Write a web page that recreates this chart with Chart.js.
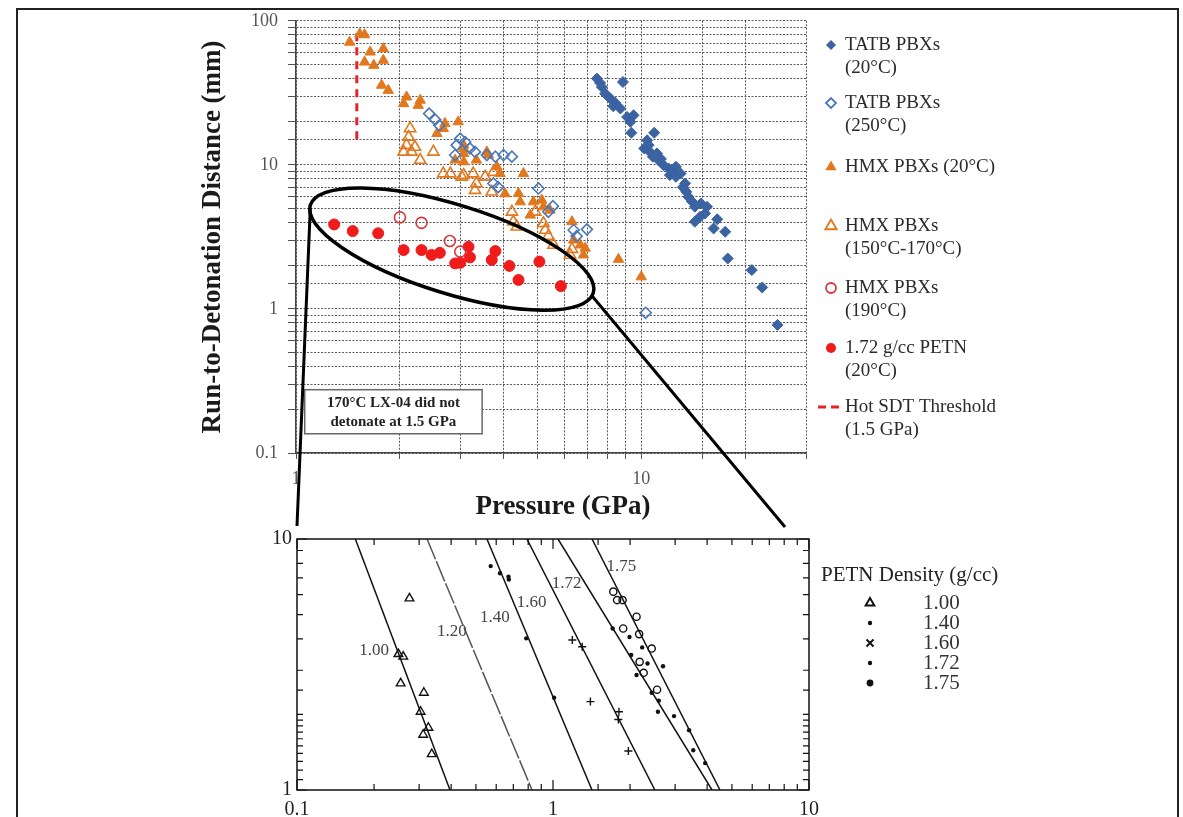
<!DOCTYPE html>
<html>
<head>
<meta charset="utf-8">
<script src="https://cdn.jsdelivr.net/npm/chart.js@4.4.1/dist/chart.umd.min.js"></script>
<style>
  body { margin: 0; background: #fff; }
  #wrap { position: relative; width: 1183px; height: 817px; overflow: hidden; }
  #frame { position: absolute; left: 16px; top: 8px; width: 1159px; height: 840px; border: 2px solid #222; }
  canvas { position: absolute; left: 0; top: 0; }
</style>
</head>
<body>
<div id="wrap">
  <div id="frame"></div>
  <canvas id="zoomChart" width="1183" height="817"></canvas>
  <canvas id="mainChart" width="1183" height="817"></canvas>
</div>
<script>
// ---- main chart data (pressure GPa, run distance mm) ----
const tatb20P = [7.44, 8.85, 7.60, 7.69, 7.86, 8.0, 8.13, 8.41, 8.3, 8.70, 9.10, 9.50, 9.30, 9.36, 10.9, 10.4, 10.2, 10.5, 10.6,
  10.8, 11.1, 11.2, 11.4, 11.6, 12.0, 12.6, 12.1, 12.3, 12.6, 13.0, 13.2, 13.4, 13.5, 13.7, 14.0, 14.3, 14.9, 15.5, 15.3, 14.3,
  14.8, 16.6, 16.2, 17.5, 17.8, 20.9, 22.4, 24.8];
const tatb20R = [39.7, 37.6, 37.0, 34.7, 31.2, 30.0, 28.9, 26.9, 25.5, 24.6, 21.5, 22.1, 19.9, 16.7, 16.7, 14.8, 13.0, 13.7, 12.3,
  11.4, 12.0, 10.8, 11.0, 9.95, 9.44, 9.7, 8.49, 9.0, 8.26, 8.7, 7.0, 7.43, 6.50, 6.0, 5.6, 5.12, 5.4, 5.12, 4.60, 4.03,
  4.36, 4.19, 3.62, 3.43, 2.24, 1.86, 1.41, 0.775];

const tatb250P = [2.43, 2.53, 2.60, 2.99, 3.09, 2.92, 3.19, 3.30, 3.57, 3.78, 3.99, 4.22, 2.89, 3.73, 3.85, 5.04, 5.55, 5.38, 6.37, 6.96, 6.50, 10.3];
const tatb250R = [22.7, 20.6, 18.8, 15.2, 14.4, 13.7, 13.0, 12.3, 11.7, 11.4, 11.7, 11.4, 11.7, 7.43, 7.0, 6.86, 5.17, 4.72, 3.53, 3.57, 3.20, 0.94];

const hmx20P = [1.43, 1.53, 1.58, 1.64, 1.79, 1.58, 1.68, 1.79, 1.77, 1.85, 2.05, 2.09, 2.26, 2.29, 2.56, 2.67, 2.70, 2.95,
  3.06, 3.06, 2.89, 3.06, 3.33, 3.57, 3.82, 3.90, 4.56, 4.41, 4.46, 4.77, 4.87, 5.15, 5.21, 5.44, 6.30, 6.37, 6.66, 6.88,
  6.80, 8.59, 10.0, 3.06, 3.61, 4.03];
const hmx20R = [71, 81, 80, 60.7, 64.1, 51.7, 49.1, 53.2, 35.7, 32.9, 26.6, 29.6, 25.9, 28.1, 16.5, 17.9, 19.4, 19.9,
  13.7, 12.0, 10.8, 10.5, 10.8, 12.3, 9.69, 8.7, 8.7, 6.34, 5.54, 4.48, 5.54, 5.69, 5.11, 4.85, 4.03, 3.01, 2.78, 2.64,
  2.37, 2.21, 1.67, 13.0, 11.7, 6.3];

const hmxHotP = [2.14, 2.12, 2.09, 2.21, 2.05, 2.16, 2.29, 2.50, 2.67, 2.80, 3.02, 3.06, 3.26, 3.33, 3.53, 3.73, 3.30, 3.69,
  4.22, 4.26, 4.36, 4.93, 5.21, 5.27, 5.38, 5.57, 6.22, 6.30];
const hmxHotR = [17.9, 15.6, 13.7, 13.3, 12.3, 12.3, 10.8, 12.3, 8.7, 8.7, 8.26, 8.49, 8.7, 7.43, 8.26, 8.9, 6.68, 6.5,
  4.72, 4.03, 3.72, 4.72, 3.93, 3.53, 3.20, 2.78, 2.37, 2.60];

const hmx190P = [2.00, 2.31, 2.79, 2.99];
const hmx190R = [4.32, 3.96, 2.96, 2.50];

const petnP = [1.29, 1.46, 1.73, 2.05, 2.31, 2.47, 2.61, 2.89, 2.99, 3.16, 3.19, 3.69, 3.78, 4.15, 4.41, 5.07, 5.85];
const petnR = [3.86, 3.47, 3.35, 2.56, 2.56, 2.37, 2.45, 2.07, 2.09, 2.70, 2.28, 2.19, 2.52, 1.99, 1.59, 2.13, 1.44];

const sdtP = [1.5, 1.5];
const sdtR = [82, 15];

const mainLegend = [['TATB PBXs', '(20°C)'], ['TATB PBXs', '(250°C)'], ['HMX PBXs (20°C)'], ['HMX PBXs', '(150°C-170°C)'],
  ['HMX PBXs', '(190°C)'], ['1.72 g/cc PETN', '(20°C)'], ['Hot SDT Threshold', '(1.5 GPa)']];

// ellipse around PETN data: two tips (GPa, mm)
const ellipseP = [1.10, 7.26];
const ellipseR = [5.26, 1.29];

// ---- zoomed PETN chart data ----
const fitR = [10, 1];
const fit100P = [0.169, 0.396];
const fit120P = [0.322, 0.828];
const fit140P = [0.552, 1.42];
const fit160P = [0.791, 2.50];
const fit172P = [1.046, 4.18];
const fit175P = [1.42, 4.49];
const fitNames = ['1.00', '1.20', '1.40', '1.60', '1.72', '1.75'];
const fitLabelP = [0.20, 0.403, 0.593, 0.826, 1.13, 1.85];
const fitLabelR = [3.6, 4.26, 4.88, 5.57, 6.66, 7.76];

const pts100P = [0.275, 0.249, 0.260, 0.254, 0.313, 0.304, 0.326, 0.311, 0.336];
const pts100R = [5.8, 3.48, 3.40, 2.66, 2.44, 2.05, 1.77, 1.66, 1.39];
const pts140P = [0.571, 0.621, 0.670, 0.672, 0.786, 1.01];
const pts140R = [7.8, 7.3, 7.07, 6.9, 4.02, 2.33];
const pts160P = [1.19, 1.30, 1.40, 1.81, 1.80, 1.97];
const pts160R = [3.96, 3.72, 2.25, 2.05, 1.91, 1.43];
const pts172P = [1.71, 1.99, 2.23, 2.02, 2.34, 2.69, 2.12, 2.43, 2.59, 2.57, 2.97, 3.40, 3.53, 3.93];
const pts172R = [4.40, 4.07, 3.70, 3.45, 3.19, 3.11, 2.87, 2.44, 2.27, 2.05, 1.97, 1.73, 1.44, 1.28];
const pts175P = [1.72, 1.78, 1.87, 2.12, 1.88, 2.17, 2.43, 2.18, 2.26, 2.55];
const pts175R = [6.17, 5.71, 5.71, 4.90, 4.40, 4.18, 3.66, 3.24, 2.93, 2.51];

const SERIF = '"Liberation Serif", "Times New Roman", serif';
const BLUE = '#3b63a2';
const BLUE_OPEN = '#4a78b8';
const ORANGE = '#e2781e';
const RED_OPEN = '#d9363a';
const RED = '#f01c1c';
const GRID = 'rgba(60,60,60,0.85)';

function toPts(xs, ys) { return xs.map((x, i) => ({ x: x, y: ys[i] })); }
function isDecade(v) { const l = Math.log10(v); return Math.abs(l - Math.round(l)) < 1e-6; }
function decadeLabel(v) { return isDecade(v) ? String(Number(v.toPrecision(2))) : ''; }

function marker(ctx, style, x, y, r, fill, stroke, lw) {
  ctx.save();
  ctx.beginPath();
  if (style === 'rectRot') {
    ctx.moveTo(x - r, y); ctx.lineTo(x, y - r); ctx.lineTo(x + r, y); ctx.lineTo(x, y + r); ctx.closePath();
  } else if (style === 'triangle') {
    ctx.moveTo(x, y - r); ctx.lineTo(x + r * 0.866, y + r / 2); ctx.lineTo(x - r * 0.866, y + r / 2); ctx.closePath();
  } else if (style === 'crossRot') {
    ctx.moveTo(x - r, y - r); ctx.lineTo(x + r, y + r); ctx.moveTo(x + r, y - r); ctx.lineTo(x - r, y + r);
  } else {
    ctx.arc(x, y, r, 0, Math.PI * 2);
  }
  if (fill) { ctx.fillStyle = fill; ctx.fill(); }
  if (stroke) { ctx.lineWidth = lw; ctx.strokeStyle = stroke; ctx.stroke(); }
  ctx.restore();
}

// ---------------- zoomed PETN chart ----------------
const zoomExtras = {
  id: 'zoomExtras',
  afterDraw(chart) {
    const { ctx, chartArea: a, scales: { x, y } } = chart;
    ctx.save();
    ctx.strokeStyle = '#111';
    ctx.lineWidth = 1.5;
    ctx.strokeRect(a.left, a.top, a.right - a.left, a.bottom - a.top);
    // inward ticks on four sides
    ctx.lineWidth = 1.2;
    ctx.beginPath();
    x.ticks.forEach(t => {
      const px = x.getPixelForValue(t.value);
      const len = isDecade(t.value) ? 10 : 6;
      ctx.moveTo(px, a.bottom); ctx.lineTo(px, a.bottom - len);
      ctx.moveTo(px, a.top); ctx.lineTo(px, a.top + len);
    });
    y.ticks.forEach(t => {
      const py = y.getPixelForValue(t.value);
      const len = isDecade(t.value) ? 10 : 6;
      ctx.moveTo(a.left, py); ctx.lineTo(a.left + len, py);
      ctx.moveTo(a.right, py); ctx.lineTo(a.right - len, py);
    });
    ctx.stroke();

    // density labels on the fitted lines
    ctx.fillStyle = '#444';
    ctx.font = '17px ' + SERIF;
    ctx.textAlign = 'center';
    ctx.textBaseline = 'middle';
    fitNames.forEach((n, i) => {
      ctx.fillText(n, x.getPixelForValue(fitLabelP[i]), y.getPixelForValue(fitLabelR[i]));
    });

    // legend
    const lx = a.right + 12;
    ctx.fillStyle = '#222';
    ctx.font = '21px ' + SERIF;
    ctx.textAlign = 'left';
    ctx.fillText('PETN Density (g/cc)', lx, a.top + 36);
    const styles = [['triangle', null, '#111', 5], ['circle', '#111', null, 2.2], ['crossRot', null, '#111', 3.5],
      ['circle', '#111', null, 2.2], ['circle', '#111', null, 3.4]];
    const names = ['1.00', '1.40', '1.60', '1.72', '1.75'];
    names.forEach((n, i) => {
      const ry = a.top + 64 + i * 20;
      const s = styles[i];
      marker(ctx, s[0], lx + 49, ry, s[3], s[1], s[2], 2);
      ctx.fillStyle = '#333';
      ctx.fillText(n, lx + 102, ry);
    });
    ctx.restore();
  }
};

function fitLine(xs, dash) {
  return { type: 'line', data: toPts(xs, fitR), borderColor: dash ? '#555' : '#111', borderWidth: 1.5,
    borderDash: dash ? [22, 2] : [], pointRadius: 0 };
}

const zoomChart = new Chart(document.getElementById('zoomChart'), {
  type: 'scatter',
  data: {
    datasets: [
      fitLine(fit100P), fitLine(fit120P, true), fitLine(fit140P), fitLine(fit160P), fitLine(fit172P), fitLine(fit175P),
      { data: toPts(pts100P, pts100R), pointStyle: 'triangle', pointRadius: 5, borderColor: '#111', backgroundColor: 'rgba(0,0,0,0)', borderWidth: 1.4 },
      { data: toPts(pts140P, pts140R), pointStyle: 'circle', pointRadius: 2.2, borderColor: '#111', backgroundColor: '#111', borderWidth: 0 },
      { data: toPts(pts160P, pts160R), pointStyle: 'cross', pointRadius: 4, borderColor: '#111', borderWidth: 1.4 },
      { data: toPts(pts172P, pts172R), pointStyle: 'circle', pointRadius: 2.2, borderColor: '#111', backgroundColor: '#111', borderWidth: 0 },
      { data: toPts(pts175P, pts175R), pointStyle: 'circle', pointRadius: 3.6, borderColor: '#111', backgroundColor: 'rgba(0,0,0,0)', borderWidth: 1.4 }
    ]
  },
  options: {
    responsive: false,
    animation: false,
    layout: { padding: { left: 257, top: 539, right: 374, bottom: 0 } },
    plugins: { legend: { display: false }, tooltip: { enabled: false } },
    scales: {
      x: {
        type: 'logarithmic', min: 0.1, max: 10,
        afterFit(s) { s.height = 27; },
        grid: { display: false, drawTicks: false },
        border: { display: false },
        ticks: { autoSkip: false, maxRotation: 0, padding: 8, color: '#222', font: { family: SERIF, size: 20 },
          callback: v => decadeLabel(v) }
      },
      y: {
        type: 'logarithmic', min: 1, max: 10,
        afterFit(s) { s.width = 40; },
        grid: { display: false, drawTicks: false },
        border: { display: false },
        ticks: { autoSkip: false, padding: 5, color: '#222', font: { family: SERIF, size: 20 },
          callback: v => decadeLabel(v) }
      }
    }
  },
  plugins: [zoomExtras]
});

// ---------------- main chart ----------------
const mainExtras = {
  id: 'mainExtras',
  afterDatasetsDraw(chart) {
    const { ctx, scales: { x, y } } = chart;
    // ellipse
    const x1 = x.getPixelForValue(ellipseP[0]), y1 = y.getPixelForValue(ellipseR[0]);
    const x2 = x.getPixelForValue(ellipseP[1]), y2 = y.getPixelForValue(ellipseR[1]);
    const semi = Math.hypot(x2 - x1, y2 - y1) / 2;
    ctx.save();
    ctx.beginPath();
    ctx.ellipse((x1 + x2) / 2, (y1 + y2) / 2, semi, semi * 0.3, Math.atan2(y2 - y1, x2 - x1), 0, Math.PI * 2);
    ctx.lineWidth = 3.5;
    ctx.strokeStyle = '#000';
    ctx.stroke();

    // note box
    const bx0 = x.getPixelForValue(1.06), bx1 = x.getPixelForValue(3.46);
    const by0 = y.getPixelForValue(0.275), by1 = y.getPixelForValue(0.136);
    ctx.fillStyle = '#fff';
    ctx.fillRect(bx0, by0, bx1 - bx0, by1 - by0);
    ctx.lineWidth = 1.5;
    ctx.strokeStyle = '#666';
    ctx.strokeRect(bx0, by0, bx1 - bx0, by1 - by0);
    ctx.fillStyle = '#222';
    ctx.font = 'bold 15px ' + SERIF;
    ctx.textAlign = 'center';
    ctx.textBaseline = 'middle';
    ctx.fillText('170°C LX-04 did not', (bx0 + bx1) / 2, by0 + 13);
    ctx.fillText('detonate at 1.5 GPa', (bx0 + bx1) / 2, by0 + 32);
    ctx.restore();
  },
  afterDraw(chart) {
    const { ctx, chartArea: a, scales: { x, y } } = chart;
    ctx.save();
    // zoom connector lines
    const z = zoomChart.chartArea;
    const x1 = x.getPixelForValue(ellipseP[0]), y1 = y.getPixelForValue(ellipseR[0]);
    const x2 = x.getPixelForValue(ellipseP[1]), y2 = y.getPixelForValue(ellipseR[1]);
    ctx.beginPath();
    ctx.moveTo(x1, y1 + 3); ctx.lineTo(z.left, z.top - 13);
    ctx.moveTo(x2 - 2, y2 + 2); ctx.lineTo(z.right - 24, z.top - 12);
    ctx.lineWidth = 3;
    ctx.strokeStyle = '#000';
    ctx.stroke();

    // axis titles
    ctx.fillStyle = '#1a1a1a';
    ctx.font = 'bold 27px ' + SERIF;
    ctx.textAlign = 'center';
    ctx.textBaseline = 'middle';
    ctx.fillText('Pressure (GPa)', (a.left + a.right) / 2 + 12, a.bottom + 54);
    ctx.save();
    ctx.translate(a.left - 83, (a.top + a.bottom) / 2);
    ctx.rotate(-Math.PI / 2);
    ctx.fillText('Run-to-Detonation Distance (mm)', 0, 0);
    ctx.restore();

    // legend
    const rows = [45, 103, 167, 226, 288, 348, 407];
    const lx = a.right + 25;
    ctx.font = '19px ' + SERIF;
    ctx.textAlign = 'left';
    chart.data.datasets.forEach((ds, i) => {
      const ry = rows[i];
      if (ds.type === 'line') {
        ctx.save();
        ctx.beginPath();
        ctx.setLineDash([8, 5]);
        ctx.moveTo(lx - 13, ry); ctx.lineTo(lx + 13, ry);
        ctx.lineWidth = 3;
        ctx.strokeStyle = ds.borderColor;
        ctx.stroke();
        ctx.restore();
      } else {
        const filled = ds.backgroundColor !== 'rgba(0,0,0,0)';
        const r = ds.pointStyle === 'triangle' ? 6.5 : (ds.pointStyle === 'rectRot' ? 5 : 5);
        marker(ctx, ds.pointStyle, lx, ry, r, filled ? ds.backgroundColor : null, filled ? null : ds.borderColor, 1.8);
      }
      ctx.fillStyle = '#2a2a2a';
      mainLegend[i].forEach((t, k) => ctx.fillText(t, lx + 14, ry + k * 23));
    });
    ctx.restore();
  }
};

const mainChart = new Chart(document.getElementById('mainChart'), {
  type: 'scatter',
  data: {
    datasets: [
      { label: 'TATB PBXs (20°C)', data: toPts(tatb20P, tatb20R), pointStyle: 'rectRot', pointRadius: 5.5,
        backgroundColor: BLUE, borderColor: BLUE, borderWidth: 1 },
      { label: 'TATB PBXs (250°C)', data: toPts(tatb250P, tatb250R), pointStyle: 'rectRot', pointRadius: 5.5,
        backgroundColor: 'rgba(0,0,0,0)', borderColor: BLUE_OPEN, borderWidth: 1.6 },
      { label: 'HMX PBXs (20°C)', data: toPts(hmx20P, hmx20R), pointStyle: 'triangle', pointRadius: 6,
        backgroundColor: ORANGE, borderColor: ORANGE, borderWidth: 1 },
      { label: 'HMX PBXs (150°C-170°C)', data: toPts(hmxHotP, hmxHotR), pointStyle: 'triangle', pointRadius: 6.5,
        backgroundColor: 'rgba(0,0,0,0)', borderColor: ORANGE, borderWidth: 1.6 },
      { label: 'HMX PBXs (190°C)', data: toPts(hmx190P, hmx190R), pointStyle: 'circle', pointRadius: 5.5,
        backgroundColor: 'rgba(0,0,0,0)', borderColor: RED_OPEN, borderWidth: 1.6 },
      { label: '1.72 g/cc PETN (20°C)', data: toPts(petnP, petnR), pointStyle: 'circle', pointRadius: 5.5,
        backgroundColor: RED, borderColor: RED, borderWidth: 1 },
      { type: 'line', label: 'Hot SDT Threshold (1.5 GPa)', data: toPts(sdtP, sdtR), borderColor: '#e8202a',
        borderWidth: 3, borderDash: [8, 6], pointRadius: 0 }
    ]
  },
  options: {
    responsive: false,
    animation: false,
    layout: { padding: { left: 196, top: 20, right: 377, bottom: 294 } },
    plugins: { legend: { display: false }, tooltip: { enabled: false } },
    scales: {
      x: {
        type: 'logarithmic', min: 1, max: 30,
        afterFit(s) { s.height = 70; },
        grid: { color: GRID, lineWidth: 1, tickLength: 6, tickColor: '#555', tickBorderDash: [] },
        border: { display: true, color: '#444', width: 1.5, dash: [2, 1.5] },
        ticks: { autoSkip: false, maxRotation: 0, padding: 9, color: '#555', font: { family: SERIF, size: 18 },
          callback: v => decadeLabel(v) }
      },
      y: {
        type: 'logarithmic', min: 0.1, max: 100,
        afterFit(s) { s.width = 100; },
        grid: { color: GRID, lineWidth: 1, tickLength: 8, tickColor: '#555', tickBorderDash: [] },
        border: { display: true, color: '#444', width: 1.5, dash: [2, 1.5] },
        ticks: { autoSkip: false, padding: 10, color: '#555', font: { family: SERIF, size: 18 },
          callback: v => decadeLabel(v) }
      }
    }
  },
  plugins: [mainExtras]
});
</script>
</body>
</html>
